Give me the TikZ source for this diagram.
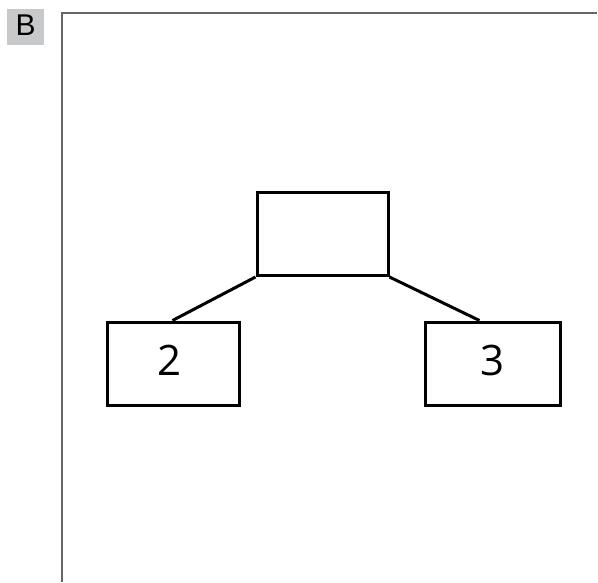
\documentclass[tikz,border=0pt]{standalone}
\usepackage{fontspec}
\setmainfont{Open Sans}
\newfontfamily\labelfont{Liberation Sans}
\definecolor{framegray}{HTML}{666666}
\definecolor{tabgray}{HTML}{C8C9CA}
\tikzset{
  box/.style={draw=black, line width=3pt, minimum height=83pt, inner sep=0pt},
  digit/.style={inner sep=0pt, font=\fontsize{42}{42}\selectfont},
  link/.style={draw=black, line width=3pt},
}
\begin{document}
\begin{tikzpicture}[x=1pt,y=-1pt]
\useasboundingbox (0,0) rectangle (598,582);
% tab label
\node[fill=tabgray, minimum width=37pt, minimum height=36pt, inner sep=0pt] (tab) at (25.5,27) {};
\node[inner sep=0pt, font=\labelfont\fontsize{30}{30}\selectfont] (tabtext) at (25.7,25.5) {B};
% frame
\coordinate (fbl) at (62,582);
\coordinate (ftl) at (62,13);
\coordinate (ftr) at (597,13);
\draw[framegray, line width=2.4pt] (fbl) -- (ftl) -- (ftr);
% boxes
\node[box, minimum width=131pt] (top) at (322.5,234) {};
\node[box, minimum width=132pt] (left) at (173,363.5) {};
\node[box, minimum width=135pt] (right) at (492.5,363.5) {};
\node[digit] (ltext) at (169.5,360.5) {2};
\node[digit] (rtext) at (492.5,360.5) {3};
% connectors
\draw[link] (top.south west) -- ([xshift=67pt]left.north west);
\draw[link] (top.south east) -- ([xshift=56pt]right.north west);
\end{tikzpicture}
\end{document}
